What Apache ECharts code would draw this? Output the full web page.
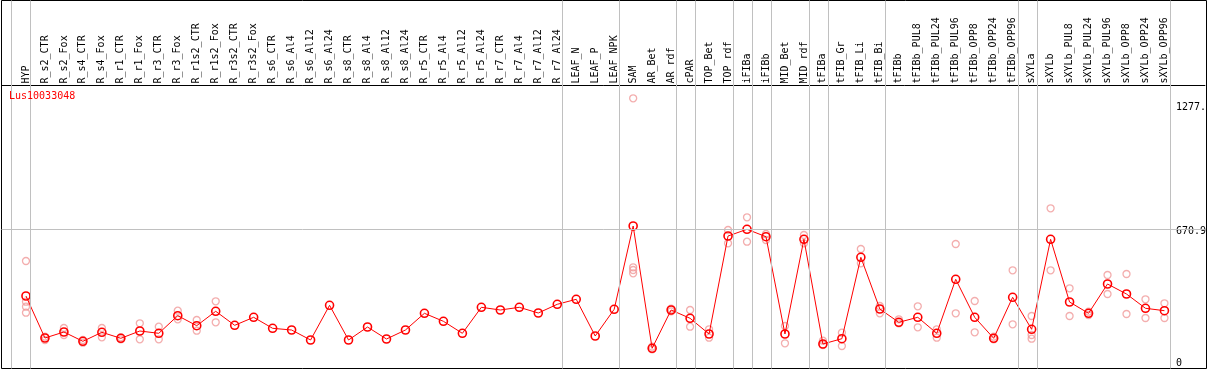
<!DOCTYPE html>
<html>
<head>
<meta charset="utf-8">
<script src="https://cdn.jsdelivr.net/npm/echarts@6/dist/echarts.min.js"></script>
<style>html,body{margin:0;padding:0;background:#fff}#c{width:1209px;height:370px}</style>
</head>
<body>
<div id="c"></div>
<script>
const geneName = 'Lus10033048';
const categories = ['HYP','R_s2_CTR','R_s2_Fox','R_s4_CTR','R_s4_Fox','R_r1_CTR','R_r1_Fox','R_r3_CTR','R_r3_Fox','R_r1s2_CTR','R_r1s2_Fox','R_r3s2_CTR','R_r3s2_Fox','R_s6_CTR','R_s6_Al4','R_s6_Al12','R_s6_Al24','R_s8_CTR','R_s8_Al4','R_s8_Al12','R_s8_Al24','R_r5_CTR','R_r5_Al4','R_r5_Al12','R_r5_Al24','R_r7_CTR','R_r7_Al4','R_r7_Al12','R_r7_Al24','LEAF_N','LEAF_P','LEAF_NPK','SAM','AR_Bet','AR_rdf','cPAR','TOP_Bet','TOP_rdf','iFIBa','iFIBb','MID_Bet','MID_rdf','tFIBa','tFIB_Gr','tFIB_Li','tFIB_Bi','tFIBb','tFIBb_PUL8','tFIBb_PUL24','tFIBb_PUL96','tFIBb_OPP8','tFIBb_OPP24','tFIBb_OPP96','sXYLa','sXYLb','sXYLb_PUL8','sXYLb_PUL24','sXYLb_PUL96','sXYLb_OPP8','sXYLb_OPP24','sXYLb_OPP96'];
const meanValues = [335,125,155,108.5,153.5,123.5,160,148.5,236.5,186.5,258.5,188.5,228.5,173.5,165,115,288.5,115,180,120,165,248.5,208.5,148.5,278.5,265,278.5,250,293.5,318.5,135,268.5,685,73.5,265,223.5,145,635,668.5,631.5,145,618.5,95,121.5,528.5,270,203.5,228.5,148.5,418.5,228.5,123.5,328.5,168.5,618.5,305,248.5,395,345,273.5,261.5];
const replicateValues = [
  [510,306.5,281.5,251.5],[115,131.5],[175,140],[115,101.5],[175,128.5],[128.5,118.5],[198.5,118.5],[181.5,118.5],[261.5,218.5],[215,161.5],[308.5,203.5],
  [],[],[],[],[],[],[],[],[],[],[],[],[],[],[],[],[],[],[],[],[],
  [1323.5,478.5,465,448.5],[81.5,68.5],[271.5,258.5],[265,181.5],[168.5,126.5],[665,598.5],[728.5,606.5],[645,615],[185,98.5],[640,598.5],[111.5,90],[151.5,85],[570,498.5],[285,248.5],
  [218.5,198.5],[283.5,178.5],[168.5,126.5],[595,248.5],[310,153.5],[131.5,118.5],[463.5,193.5],[235,140,121.5],[773.5,463.5],[373.5,235],[256.5,240],[440,345],[445,245],[318.5,225],[298.5,225]
];
const groupBoundaries = [0,1,29,32,35,36,38,39,40,42,43,46,53,54,61];
const yTickValues = [0, 670.9, 1277];
const yTickLabels = ['0', '670.9', '1277.'];
const refLineValue = 670.9;

const FONT = 'DejaVu Sans Mono';
const xMin = -24.5 / 19, xMax = xMin + 1205 / 19;
const meanData = meanValues.map((v, i) => [i, v]);
const repData = [];
replicateValues.forEach((arr, i) => arr.forEach(v => repData.push([i, v])));

const chart = echarts.init(document.getElementById('c'), null, {renderer: 'canvas'});
chart.setOption({
  animation: false,
  backgroundColor: '#fff',
  title: {text: geneName, left: 9, top: 91, padding: 0,
    textStyle: {color: '#ff0000', fontFamily: FONT, fontSize: 10, fontWeight: 'normal'}},
  grid: [
    {left: 1.5, right: 2.5, top: 0.5, bottom: 1.5, show: true, borderColor: '#000', borderWidth: 1, backgroundColor: 'transparent'},
    {left: 1.5, right: 2.5, top: 85.5, bottom: 1.5}
  ],
  xAxis: [
    {gridIndex: 0, type: 'value', min: xMin, max: xMax, show: false},
    {gridIndex: 1, type: 'value', min: xMin, max: xMax, position: 'top',
      axisLine: {show: true, onZero: false, lineStyle: {color: '#000', width: 1}},
      axisTick: {show: false}, splitLine: {show: false},
      axisLabel: {show: true, customValues: categories.map((c, i) => i), rotate: -90, margin: 2,
        fontFamily: FONT, fontSize: 10, color: '#000', formatter: v => categories[Math.round(v)] || ''}}
  ],
  yAxis: [
    {gridIndex: 0, type: 'value', min: 0, max: 1, show: false},
    {gridIndex: 1, type: 'value', min: -27.5, max: 1387.5, position: 'right',
      axisLine: {show: false}, axisTick: {show: false}, splitLine: {show: false},
      axisLabel: {show: true, inside: true, customValues: yTickValues, align: 'left', margin: 29,
        fontFamily: FONT, fontSize: 10, color: '#000',
        formatter: v => {
          const k = yTickValues.findIndex(t => Math.abs(t - v) < 1e-6);
          const s = k >= 0 ? yTickLabels[k] : '';
          return v === refLineValue ? '{d|' + s + '}' : s;
        },
        rich: {d: {fontFamily: FONT, fontSize: 10, color: '#000', padding: [5, 0, 0, 0]}}}}
  ],
  series: [
    {type: 'line', xAxisIndex: 0, yAxisIndex: 0, data: [], silent: true,
      markLine: {silent: true, symbol: 'none', label: {show: false},
        lineStyle: {color: '#c0c0c0', type: 'solid', width: 1},
        data: groupBoundaries.map(k => ({xAxis: k - 0.76}))}},
    {type: 'scatter', xAxisIndex: 1, yAxisIndex: 1, data: repData, symbol: 'circle', symbolSize: 7, z: 3,
      itemStyle: {color: 'rgba(0,0,0,0)', borderColor: '#f09a9a', borderWidth: 1.3},
      markLine: {silent: true, symbol: 'none', label: {show: false},
        lineStyle: {color: '#c0c0c0', type: 'solid', width: 1},
        data: [{yAxis: refLineValue}]}},
    {type: 'line', xAxisIndex: 1, yAxisIndex: 1, data: meanData, symbol: 'circle', symbolSize: 8, z: 4,
      lineStyle: {color: '#ff0000', width: 1},
      itemStyle: {color: 'rgba(0,0,0,0)', borderColor: '#ff0000', borderWidth: 1.6}}
  ]
});
</script>
</body>
</html>
